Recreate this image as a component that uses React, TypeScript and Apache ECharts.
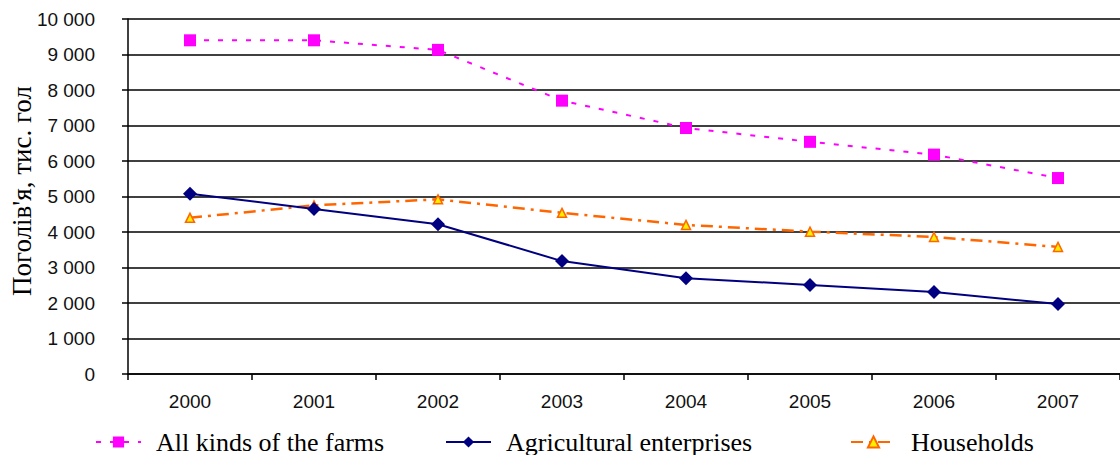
import React, { useEffect, useRef } from "react";
import * as echarts from "echarts";

const years = ["2000", "2001", "2002", "2003", "2004", "2005", "2006", "2007"];
const allFarms = [9400, 9400, 9130, 7700, 6930, 6540, 6180, 5520];
const agriEnterprises = [5080, 4650, 4220, 3180, 2700, 2510, 2310, 1970];
const households = [4400, 4750, 4920, 4540, 4200, 4010, 3860, 3580];

const seriesNames = ["All kinds of the farms", "Agricultural enterprises", "Households"];
const yAxisTitle = "Поголів'я, тис. гол";

const fmt = (v: number) => {
  const s = String(Math.round(v));
  return s.replace(/\B(?=(\d{3})+(?!\d))/g, " ");
};

export default function App() {
  const ref = useRef<HTMLDivElement>(null);
  useEffect(() => {
    document.body.style.margin = "0";
    const chart = echarts.init(ref.current!, null, { renderer: "svg" });
    const legendBase = {
      orient: "horizontal" as const,
      top: 424,
      itemWidth: 45,
      itemHeight: 14,
      textStyle: {
        fontFamily: "Liberation Serif",
        fontSize: 26,
        color: "#000",
        padding: [0, 0, 0, 10],
      },
    };
    chart.setOption({
      animation: false,
      backgroundColor: "#fff",
      grid: { left: 128, top: 19, width: 995, height: 355 },
      legend: [
        { ...legendBase, left: 90, data: [seriesNames[0]] },
        { ...legendBase, left: 440, data: [seriesNames[1]] },
        { ...legendBase, left: 845, data: [seriesNames[2]] },
      ],
      xAxis: {
        type: "category",
        data: years,
        boundaryGap: true,
        axisLine: { lineStyle: { color: "#000", width: 1.5 } },
        axisTick: { show: true, length: 6, alignWithLabel: false, lineStyle: { color: "#000", width: 1.5 } },
        axisLabel: {
          margin: 18,
          fontFamily: "Liberation Sans",
          fontSize: 19,
          color: "#111",
        },
        splitLine: { show: false },
      },
      yAxis: {
        type: "value",
        min: 0,
        max: 10000,
        interval: 1000,
        axisLine: { show: true, lineStyle: { color: "#000", width: 1.5 } },
        axisTick: { show: true, length: 6, lineStyle: { color: "#000", width: 1.5 } },
        axisLabel: {
          margin: 33,
          fontFamily: "Liberation Sans",
          fontSize: 19,
          color: "#111",
          formatter: (v: number) => fmt(v),
        },
        splitLine: { show: true, lineStyle: { color: "#000", width: 1.5 } },
      },
      graphic: [
        {
          type: "text",
          x: 22,
          y: 191,
          rotation: Math.PI / 2,
          style: {
            text: yAxisTitle,
            fontFamily: "Liberation Serif",
            fontSize: 27,
            fill: "#000",
            textAlign: "center",
            textVerticalAlign: "middle",
          },
        },
      ],
      series: [
        {
          name: seriesNames[2],
          type: "line",
          data: households,
          symbol: "triangle",
          symbolSize: 9,
          itemStyle: { color: "#FFEE00", borderColor: "#FF6600", borderWidth: 1.5 },
          lineStyle: { color: "#FF6600", width: 2.5, type: [12, 6, 3, 6] },
          z: 2,
        },
        {
          name: seriesNames[1],
          type: "line",
          data: agriEnterprises,
          symbol: "diamond",
          symbolSize: 14,
          itemStyle: { color: "#000080" },
          lineStyle: { color: "#000080", width: 2, type: "solid" },
          z: 3,
        },
        {
          name: seriesNames[0],
          type: "line",
          data: allFarms,
          symbol: "rect",
          symbolSize: 12,
          itemStyle: { color: "#FF00FF" },
          lineStyle: { color: "#FF00FF", width: 2, type: [5, 9] },
          z: 4,
        },
      ],
    });
    return () => chart.dispose();
  }, []);
  return <div ref={ref} style={{ width: 1120, height: 455 }} />;
}
